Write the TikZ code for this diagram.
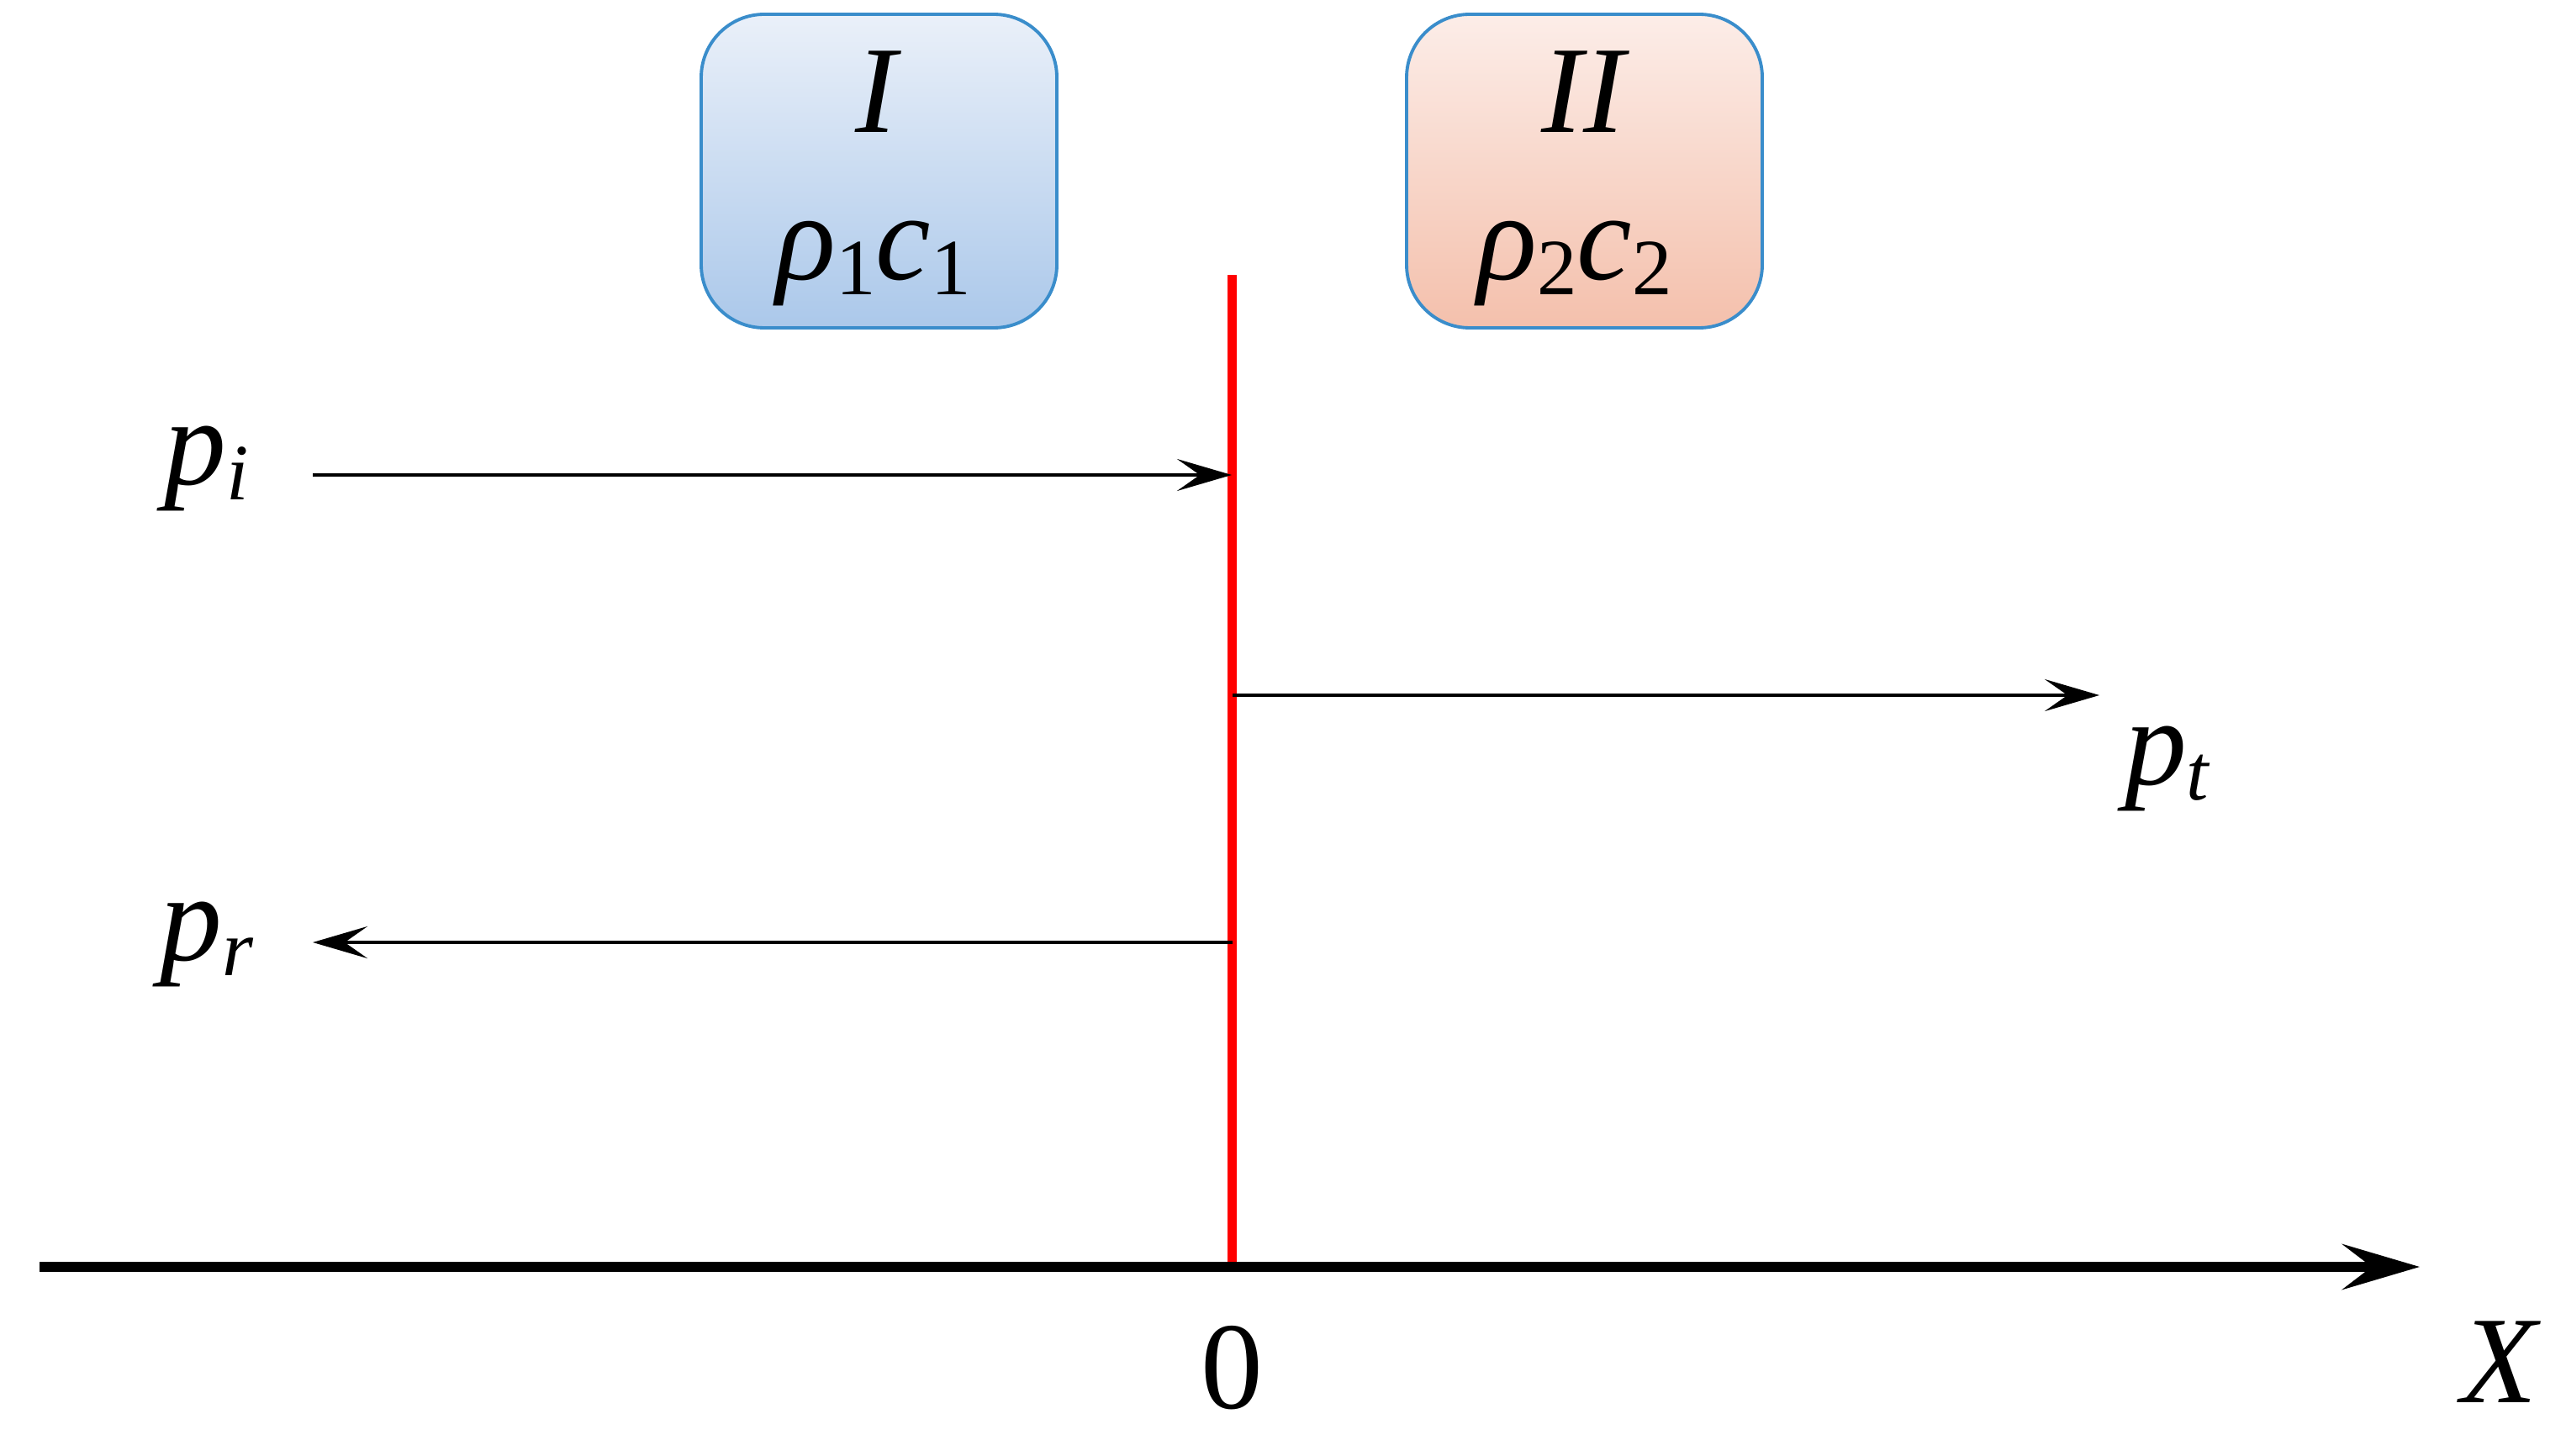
\documentclass[tikz,border=0pt]{standalone}
\usepackage{fontspec}
\setmainfont{Liberation Serif}
\usetikzlibrary{arrows.meta}
\definecolor{boxline}{HTML}{3A8DCB}
\definecolor{blueTop}{HTML}{EAF0F9}
\definecolor{blueBot}{HTML}{ABC8EA}
\definecolor{pinkTop}{HTML}{FCEDE8}
\definecolor{pinkBot}{HTML}{F4C0AC}
\newcommand{\sub}[1]{\raisebox{-0.18cm}{\fontsize{27}{30}\selectfont #1}}
\tikzset{
  region/.style={draw=boxline, line width=1.1pt, rounded corners=0.75cm, minimum width=4.23cm, minimum height=3.73cm},
  wave/.style={line width=1.4pt, -{Stealth[length=0.65cm,width=0.38cm,inset=0.27cm]}},
  big/.style={font=\fontsize{42}{50}\selectfont, inner sep=0pt, anchor=base}
}

\begin{document}
\begin{tikzpicture}
\useasboundingbox (0,0) rectangle (30.52,17.31);
\node[region, top color=blueTop, bottom color=blueBot] (regI) at (10.455,15.275) {};
\node[region, top color=pinkTop, bottom color=pinkBot] (regII) at (18.845,15.275) {};
\node[big] (nameI) at (10.45,15.73) {\textit{I}};
\node[big] (nameII) at (18.86,15.73) {\textit{II}};
\node[big] (medI) at (10.39,13.98) {\textit{ρ}\sub{1}\textit{c}\sub{1}};
\node[big] (medII) at (18.73,13.98) {\textit{ρ}\sub{2}\textit{c}\sub{2}};

\coordinate (wtop) at (14.655,14.04);
\coordinate (wbot) at (14.655,2.24);
\draw[red, line width=3.4pt] (wbot) -- (wtop);

\coordinate (si) at (3.72,11.66);
\coordinate (wi) at (14.65,11.66);
\coordinate (wt) at (14.66,9.04);
\coordinate (et) at (24.97,9.04);
\coordinate (wr) at (14.66,6.10);
\coordinate (er) at (3.72,6.10);
\draw[wave] (si) -- (wi);
\draw[wave] (wt) -- (et);
\draw[wave] (wr) -- (er);
\node[big] (pi) at (2.46,11.54) {\textit{p}\sub{\textit{i}}};
\node[big] (pt) at (25.78,7.98) {\textit{p}\sub{\textit{t}}};
\node[big] (pr) at (2.46,5.89) {\textit{p}\sub{\textit{r}}};

\coordinate (xl) at (0.47,2.24);
\coordinate (xr) at (28.78,2.24);
\draw[line width=3.4pt, -{Stealth[length=0.92cm,width=0.54cm,inset=0.35cm]}] (xl) -- (xr);
\node[big] (zero) at (14.655,0.56) {0};
\node[big] (xname) at (29.75,0.63) {\textit{X}};
\end{tikzpicture}
\end{document}
